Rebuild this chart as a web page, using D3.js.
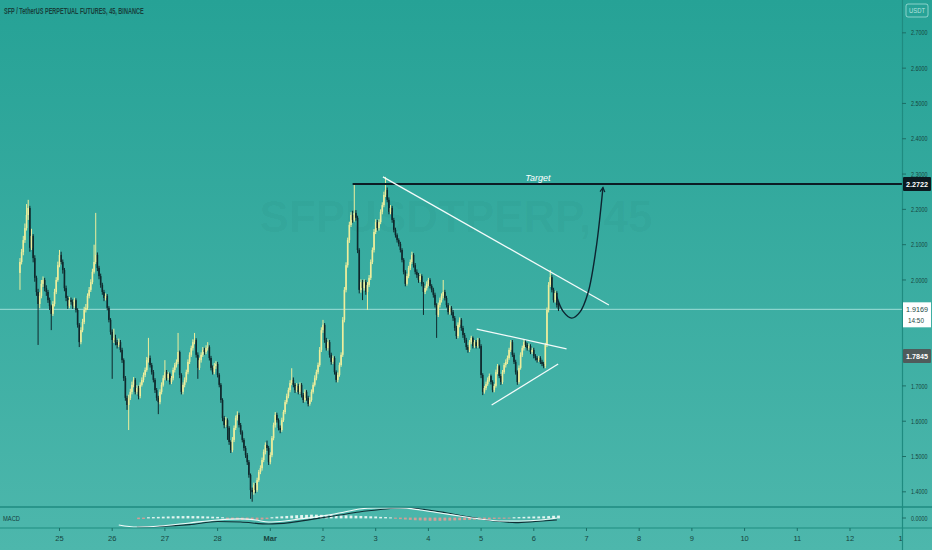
<!DOCTYPE html>
<html><head><meta charset="utf-8">
<script src="https://cdn.jsdelivr.net/npm/d3@7"></script>
<style>
html,body{margin:0;padding:0;background:#3aaca1;}
svg{display:block}
text{font-family:"Liberation Sans","DejaVu Sans",sans-serif}
</style></head><body>
<svg id="c" width="932" height="550"></svg>
<script>
// ---------- DATA ----------
const startTime = Date.UTC(2021, 1, 24, 6, 0); // first 45m candle
const barMinutes = 45;
const firstOpen = 2.020;
const closes = [
2.051,2.079,2.113,2.147,2.184,2.204,2.091,2.125,2.062,2.006,
1.966,1.932,1.955,1.989,2.000,1.977,1.966,1.943,1.926,1.904,
1.932,1.966,2.000,2.042,2.071,2.051,2.028,1.977,1.949,1.926,
1.943,1.938,1.926,1.943,1.915,1.873,1.824,1.858,1.881,1.915,
1.921,1.955,1.972,1.994,2.023,2.051,2.071,2.034,2.011,1.986,
1.966,1.949,1.955,1.921,1.887,1.853,1.830,1.836,1.824,1.816,
1.824,1.802,1.773,1.722,1.666,1.646,1.666,1.683,1.703,1.717,
1.683,1.694,1.671,1.703,1.717,1.731,1.745,1.773,1.779,1.759,
1.739,1.717,1.688,1.666,1.654,1.683,1.703,1.722,1.739,1.722,
1.734,1.711,1.722,1.745,1.759,1.768,1.796,1.731,1.683,1.703,
1.717,1.739,1.768,1.788,1.807,1.824,1.830,1.788,1.751,1.773,
1.788,1.802,1.796,1.807,1.810,1.779,1.751,1.739,1.756,1.762,
1.731,1.703,1.660,1.609,1.589,1.603,1.581,1.541,1.518,1.547,
1.581,1.609,1.618,1.589,1.569,1.547,1.524,1.504,1.484,1.448,
1.405,1.399,1.419,1.405,1.433,1.456,1.467,1.490,1.513,1.533,
1.524,1.484,1.504,1.552,1.589,1.618,1.603,1.581,1.575,1.603,
1.626,1.654,1.671,1.688,1.708,1.717,1.703,1.688,1.700,1.683,
1.703,1.674,1.660,1.683,1.666,1.649,1.660,1.683,1.703,1.722,
1.739,1.759,1.802,1.858,1.873,1.830,1.807,1.824,1.788,1.768,
1.779,1.739,1.717,1.731,1.759,1.788,1.887,1.972,2.042,2.113,
2.156,2.184,2.170,2.190,2.176,2.085,1.972,1.994,1.977,1.994,
1.966,1.986,2.006,2.051,2.085,2.136,2.164,2.147,2.164,2.193,
2.212,2.241,2.255,2.227,2.193,2.204,2.170,2.142,2.127,2.113,
2.102,2.085,2.057,2.023,1.989,2.011,2.034,2.051,2.071,2.042,
2.023,2.014,2.000,2.011,1.989,1.966,1.977,1.989,2.000,1.983,
1.972,1.958,1.929,1.901,1.929,1.943,1.955,1.966,1.949,1.929,
1.909,1.921,1.909,1.892,1.864,1.841,1.873,1.887,1.864,1.844,
1.830,1.810,1.802,1.824,1.836,1.813,1.824,1.813,1.830,1.813,
1.731,1.683,1.694,1.705,1.717,1.728,1.711,1.688,1.700,1.739,
1.756,1.728,1.711,1.739,1.759,1.768,1.779,1.802,1.824,1.788,
1.768,1.739,1.711,1.751,1.788,1.807,1.824,1.816,1.807,1.813,
1.796,1.802,1.785,1.779,1.773,1.779,1.768,1.762,1.756,1.816,
1.915,1.986,2.008,1.972,1.943,1.963,1.929,1.917];
const highs = [
2.062,2.088,2.125,2.160,2.215,2.227,2.210,2.145,2.130,2.070,
2.012,1.975,1.965,2.000,2.010,2.006,1.985,1.972,1.950,1.930,
1.940,1.975,2.008,2.052,2.085,2.080,2.058,2.034,1.984,1.955,
1.952,1.950,1.945,1.950,1.948,1.920,1.878,1.866,1.890,1.924,
1.932,1.962,1.980,2.002,2.032,2.100,2.190,2.078,2.040,2.018,
1.992,1.972,1.962,1.960,1.926,1.892,1.860,1.862,1.845,1.830,
1.834,1.830,1.808,1.778,1.728,1.672,1.675,1.692,1.712,1.725,
1.722,1.702,1.700,1.710,1.724,1.738,1.752,1.782,1.836,1.786,
1.765,1.745,1.722,1.694,1.672,1.690,1.710,1.730,1.773,1.745,
1.740,1.738,1.728,1.752,1.765,1.775,1.850,1.800,1.736,1.710,
1.724,1.746,1.775,1.795,1.814,1.832,1.850,1.835,1.795,1.780,
1.795,1.810,1.808,1.815,1.824,1.815,1.785,1.758,1.765,1.770,
1.768,1.736,1.708,1.665,1.615,1.612,1.608,1.586,1.546,1.555,
1.588,1.616,1.628,1.624,1.595,1.574,1.552,1.530,1.510,1.490,
1.452,1.412,1.426,1.425,1.440,1.462,1.475,1.497,1.520,1.540,
1.545,1.530,1.512,1.558,1.596,1.626,1.624,1.608,1.588,1.610,
1.632,1.660,1.678,1.695,1.716,1.750,1.724,1.708,1.708,1.706,
1.710,1.708,1.680,1.690,1.688,1.672,1.668,1.690,1.710,1.730,
1.746,1.766,1.810,1.866,1.887,1.878,1.836,1.832,1.830,1.794,
1.786,1.784,1.744,1.738,1.766,1.795,1.895,1.980,2.050,2.120,
2.165,2.192,2.196,2.272,2.198,2.182,2.090,2.002,2.000,2.002,
2.000,1.994,2.014,2.058,2.092,2.144,2.172,2.170,2.172,2.200,
2.220,2.250,2.292,2.262,2.234,2.212,2.210,2.176,2.148,2.132,
2.118,2.108,2.090,2.062,2.028,2.018,2.040,2.058,2.080,2.076,
2.048,2.030,2.020,2.018,2.016,1.994,1.984,1.996,2.006,2.005,
1.988,1.978,1.964,1.934,1.936,1.950,1.962,2.000,1.972,1.955,
1.935,1.928,1.926,1.915,1.898,1.870,1.880,1.894,1.892,1.870,
1.850,1.836,1.816,1.830,1.842,1.840,1.830,1.830,1.836,1.835,
1.818,1.736,1.700,1.712,1.724,1.735,1.732,1.716,1.706,1.746,
1.762,1.760,1.734,1.745,1.765,1.775,1.786,1.808,1.830,1.830,
1.794,1.774,1.744,1.758,1.795,1.814,1.832,1.830,1.822,1.820,
1.818,1.808,1.808,1.790,1.784,1.785,1.784,1.774,1.768,1.822,
1.922,1.994,2.028,2.014,1.978,1.970,1.968,1.935];
const lows = [
1.972,2.044,2.070,2.105,2.140,2.170,2.080,2.085,2.050,1.995,
1.955,1.816,1.920,1.948,1.980,1.968,1.955,1.935,1.915,1.858,
1.898,1.925,1.960,1.995,2.036,2.044,2.018,1.968,1.940,1.918,
1.920,1.930,1.918,1.920,1.908,1.865,1.810,1.818,1.852,1.875,
1.908,1.915,1.948,1.966,1.988,2.018,2.045,2.025,2.002,1.978,
1.958,1.940,1.942,1.914,1.880,1.845,1.720,1.822,1.815,1.806,
1.810,1.795,1.765,1.714,1.658,1.632,1.575,1.660,1.676,1.696,
1.676,1.676,1.662,1.665,1.698,1.710,1.725,1.740,1.766,1.752,
1.732,1.710,1.680,1.658,1.620,1.648,1.676,1.698,1.716,1.715,
1.716,1.704,1.705,1.716,1.738,1.752,1.762,1.722,1.676,1.676,
1.696,1.710,1.733,1.762,1.782,1.800,1.818,1.780,1.720,1.745,
1.766,1.782,1.788,1.790,1.800,1.772,1.744,1.732,1.733,1.748,
1.724,1.696,1.652,1.600,1.580,1.583,1.547,1.533,1.510,1.512,
1.541,1.575,1.602,1.582,1.562,1.540,1.516,1.496,1.476,1.440,
1.380,1.372,1.392,1.396,1.400,1.428,1.450,1.460,1.484,1.506,
1.516,1.476,1.478,1.498,1.546,1.582,1.596,1.574,1.566,1.570,
1.598,1.620,1.648,1.665,1.682,1.702,1.696,1.680,1.682,1.676,
1.677,1.667,1.652,1.654,1.658,1.642,1.644,1.655,1.678,1.698,
1.716,1.733,1.754,1.796,1.850,1.822,1.800,1.800,1.780,1.760,
1.762,1.732,1.710,1.710,1.726,1.754,1.782,1.880,1.965,2.035,
2.105,2.150,2.162,2.165,2.168,2.076,1.962,1.964,1.943,1.970,
1.958,1.915,1.980,2.000,2.045,2.078,2.130,2.140,2.140,2.158,
2.186,2.206,2.235,2.220,2.186,2.186,2.162,2.135,2.120,2.106,
2.095,2.078,2.050,2.016,1.982,1.984,2.005,2.028,2.045,2.035,
2.016,2.006,1.992,1.994,1.982,1.901,1.960,1.970,1.982,1.976,
1.965,1.950,1.922,1.836,1.895,1.922,1.936,1.948,1.942,1.922,
1.902,1.902,1.900,1.884,1.856,1.833,1.835,1.866,1.856,1.836,
1.822,1.802,1.794,1.796,1.818,1.806,1.808,1.806,1.808,1.806,
1.722,1.674,1.678,1.688,1.700,1.712,1.704,1.682,1.682,1.695,
1.733,1.722,1.703,1.705,1.734,1.752,1.762,1.774,1.796,1.782,
1.762,1.732,1.703,1.706,1.746,1.782,1.800,1.810,1.800,1.802,
1.790,1.790,1.778,1.772,1.766,1.768,1.762,1.756,1.750,1.750,
1.810,1.908,1.980,1.965,1.936,1.936,1.922,1.912];

// MACD (sampled at candle indices)
const macdIdx  = [60,71,85,103,120,134,143,151,161,170,179,191,200,206,216,231,243,255,267,279,291,304,316,326];
const macdVals = [-0.038,-0.049,-0.044,-0.027,-0.011,-0.005,-0.011,-0.022,-0.016,-0.005,0.005,0.022,0.038,0.049,0.055,0.055,0.044,0.027,0.011,-0.005,-0.016,-0.016,-0.011,0.000];
const signalIdx  = [71,85,103,120,134,151,164,179,194,206,219,231,243,258,273,288,301,313,326];
const signalVals = [-0.049,-0.046,-0.036,-0.019,-0.022,-0.033,-0.025,-0.005,0.016,0.033,0.046,0.055,0.049,0.030,0.005,-0.016,-0.025,-0.019,-0.011];
const histStart = 72, histStep = 3;
const histVals = [-0.004,-0.003,0.002,0.003,0.004,0.005,0.006,0.007,0.008,0.008,
0.009,0.008,0.008,0.007,0.006,0.005,0.004,0.002,-0.003,-0.005,
-0.006,-0.008,-0.009,-0.009,-0.008,-0.006,-0.004,0.002,0.005,0.007,
0.009,0.011,0.013,0.014,0.015,0.016,0.016,0.015,0.015,0.014,
0.013,0.012,0.012,0.011,0.010,0.009,0.008,0.007,0.006,0.004,
0.003,0.001,-0.002,-0.004,-0.006,-0.008,-0.010,-0.011,-0.012,-0.013,
-0.013,-0.013,-0.012,-0.012,-0.011,-0.010,-0.009,-0.008,-0.007,-0.006,
-0.005,-0.004,-0.003,-0.002,-0.002,-0.001,0.002,0.003,0.004,0.005,
0.006,0.006,0.007,0.008,0.010,0.011];

// axes
const priceTicks = [2.7,2.6,2.5,2.4,2.3,2.2,2.1,2.0,1.7,1.6,1.5,1.4]; // 1.9 / 1.8 sit under the price tags
const dayTicks = [[1,25],[1,26],[1,27],[1,28],[2,1],[2,2],[2,3],[2,4],[2,5],[2,6],[2,7],[2,8],[2,9],[2,10],[2,11],[2,12],[2,13]];
const dayLabels = ["25","26","27","28","Mar","2","3","4","5","6","7","8","9","10","11","12","13"];
const lastPrice = 1.9169, lastCountdown = "14:50";
const targetPrice = 2.2722, markPrice = 1.7845;
const macdZeroLabel = "0.0000";

// drawings (candle index, price)
const targetStartIdx = 202;
const trendDown = [[220.4, 2.292], [357.6, 1.929]];
const triUpper = [[277.3, 1.861], [331.9, 1.805]];
const triLower = [[286.4, 1.646], [326.8, 1.762]];
const projection = [[325.9,1.953],[329.7,1.912],[335.0,1.892],[340.0,1.909],[344.9,1.963],[349.7,2.085],[354.0,2.262]];

// ---------- CHART ----------
const W = 932, H = 550, axisX = 902, mainBottom = 507, macdBottom = 528;
const DAY = 86400000;
const t = i => new Date(startTime + i * barMinutes * 60000);
const feb25 = Date.UTC(2021, 1, 25);
const x = d3.scaleUtc().domain([new Date(feb25 - 1.129 * DAY), new Date(feb25 + 15.987 * DAY)]).range([0, axisX]);
const y = d3.scaleLinear().domain([1.357, 2.793]).range([mainBottom, 0]);
const ym = d3.scaleLinear().domain([-0.06, 0.06]).range([529, 507]);
const xi = i => x(t(i));

const svg = d3.select("#c");
const defs = svg.append("defs");
const g = defs.append("linearGradient").attr("id","bg").attr("x1",0).attr("y1",0).attr("x2",0).attr("y2",1);
g.append("stop").attr("offset","0%").attr("stop-color","#26a296");
g.append("stop").attr("offset","100%").attr("stop-color","#4db7ac");
defs.append("clipPath").attr("id","mainClip").append("rect").attr("x",0).attr("y",0).attr("width",axisX).attr("height",mainBottom);
defs.append("clipPath").attr("id","macdClip").append("rect").attr("x",0).attr("y",mainBottom).attr("width",axisX).attr("height",macdBottom-mainBottom);
defs.append("clipPath").attr("id","timeClip").append("rect").attr("x",0).attr("y",macdBottom).attr("width",axisX).attr("height",H-macdBottom);

svg.append("rect").attr("width",W).attr("height",H).attr("fill","url(#bg)");

// narrow text helper: draws text at (px,py) squeezed horizontally to width w
function narrow(parent, px, py, s, size, w, opts = {}) {
  const gg = parent.append("g");
  const tx = gg.append("text").attr("x",0).attr("y",0).attr("font-size",size).text(s);
  if (opts.weight) tx.attr("font-weight", opts.weight);
  if (opts.fill) tx.attr("fill", opts.fill);
  if (opts.dy) tx.attr("dy", opts.dy);
  if (opts.anchor) tx.attr("text-anchor", opts.anchor);
  const nat = tx.node().getComputedTextLength() || w;
  gg.attr("transform", `translate(${px},${py}) scale(${w / nat},1)`);
  return tx;
}

// watermark
svg.append("text").attr("x", 456).attr("y", 232).attr("text-anchor","middle")
  .attr("font-size", 44).attr("font-weight","bold").attr("fill","rgba(10,60,60,0.04)")
  .text("SFPUSDTPERP, 45");

const main = svg.append("g").attr("clip-path","url(#mainClip)");

// last price line
main.append("line").attr("x1",0).attr("x2",axisX).attr("y1",y(lastPrice)).attr("y2",y(lastPrice))
  .attr("stroke","rgba(225,255,250,0.6)").attr("stroke-width",1);

// candles
const upC = "#eeee9c", dnC = "#0f282c";
const candles = closes.map((c,i)=>({i, o: i===0 ? firstOpen : closes[i-1], c, h: highs[i], l: lows[i]}));
const cg = main.append("g");
cg.selectAll("line.w").data(candles).join("line")
  .attr("x1",d=>xi(d.i)).attr("x2",d=>xi(d.i))
  .attr("y1",d=>y(d.h)).attr("y2",d=>y(d.l))
  .attr("stroke",d=>d.c>=d.o?upC:dnC).attr("stroke-width",1);
cg.selectAll("rect.b").data(candles).join("rect")
  .attr("x",d=>xi(d.i)-0.8).attr("width",1.6)
  .attr("y",d=>y(Math.max(d.o,d.c)))
  .attr("height",d=>Math.max(1, Math.abs(y(d.o)-y(d.c))))
  .attr("fill",d=>d.c>=d.o?upC:dnC);

// target line
main.append("line").attr("x1",xi(targetStartIdx)).attr("x2",axisX)
  .attr("y1",y(targetPrice)).attr("y2",y(targetPrice)).attr("stroke","#0c1c24").attr("stroke-width",2);
main.append("text").attr("x", xi(314.5)).attr("y", y(targetPrice)-3).attr("text-anchor","middle")
  .attr("font-size",9).attr("font-style","italic").attr("fill","#ffffff").text("Target");

// trend lines
const seg = (pts, color, w) => main.append("line")
  .attr("x1",xi(pts[0][0])).attr("y1",y(pts[0][1])).attr("x2",xi(pts[1][0])).attr("y2",y(pts[1][1]))
  .attr("stroke",color).attr("stroke-width",w);
seg(trendDown, "#f4fbfa", 1.3);
seg(triUpper, "#f4fbfa", 1.3);
seg(triLower, "#f4fbfa", 1.3);

// projection curve
const projPx = projection.map(p=>[xi(p[0]), y(p[1])]);
main.append("path").attr("d", d3.line().curve(d3.curveCatmullRom.alpha(0.5))(projPx))
  .attr("fill","none").attr("stroke","#0d2430").attr("stroke-width",1.4);
{
  const a = projPx[projPx.length-1], b = projPx[projPx.length-2];
  const ang = Math.atan2(a[1]-b[1], a[0]-b[0]);
  const L = 5;
  const p1 = [a[0]-L*Math.cos(ang-0.5), a[1]-L*Math.sin(ang-0.5)];
  const p2 = [a[0]-L*Math.cos(ang+0.5), a[1]-L*Math.sin(ang+0.5)];
  main.append("path").attr("d", d3.line()([p1,a,p2])).attr("fill","none").attr("stroke","#0d2430").attr("stroke-width",1.2);
}

// MACD pane
const mg = svg.append("g").attr("clip-path","url(#macdClip)");
mg.selectAll("rect.h").data(histVals).join("rect")
  .attr("x",(v,k)=>xi(histStart+k*histStep)-1.4).attr("width",2.8)
  .attr("y",v=>Math.min(ym(0),ym(v))-0.4).attr("height",v=>Math.abs(ym(v)-ym(0))+0.8)
  .attr("fill",v=>v>=0?"#e4f5f1":"#d49d97");
const ml = d3.line().curve(d3.curveMonotoneX);
mg.append("path").attr("d", ml(signalIdx.map((k,j)=>[xi(k), ym(signalVals[j])])))
  .attr("fill","none").attr("stroke","#0f2d33").attr("stroke-width",1.1);
mg.append("path").attr("d", ml(macdIdx.map((k,j)=>[xi(k), ym(macdVals[j])])))
  .attr("fill","none").attr("stroke","#f2fbf9").attr("stroke-width",1.1);
narrow(svg, 3, 521, "MACD", 7, 17, {fill:"#16403c"});

// separators
const sepC = "#1f8b80";
svg.append("line").attr("x1",0).attr("x2",W).attr("y1",mainBottom).attr("y2",mainBottom).attr("stroke",sepC).attr("stroke-width",1.5);
svg.append("line").attr("x1",0).attr("x2",W).attr("y1",macdBottom).attr("y2",macdBottom).attr("stroke",sepC).attr("stroke-width",1.2);
svg.append("line").attr("x1",axisX+0.5).attr("x2",axisX+0.5).attr("y1",0).attr("y2",H).attr("stroke",sepC).attr("stroke-width",1.2);

// time axis
const tg = svg.append("g").attr("clip-path","url(#timeClip)");
dayTicks.forEach((d,k)=>{
  const px = x(new Date(Date.UTC(2021, d[0], d[1])));
  tg.append("line").attr("x1",px).attr("x2",px).attr("y1",macdBottom).attr("y2",macdBottom+3).attr("stroke","#1c6e66");
  tg.append("text").attr("x",px).attr("y",541).attr("text-anchor","middle").attr("font-size",7.5)
    .attr("font-weight", dayLabels[k]==="Mar"?"bold":"normal").attr("fill","#174540").text(dayLabels[k]);
});

// price axis
const fmt = d3.format(".4f");
const pa = svg.append("g");
function tickLabel(yy, s){
  pa.append("line").attr("x1",axisX).attr("x2",axisX+4).attr("y1",yy).attr("y2",yy).attr("stroke","#1c6e66");
  narrow(pa, axisX+9, yy, s, 7.5, 16.5, {fill:"#174540", dy:"0.35em"});
}
priceTicks.forEach(p=>tickLabel(y(p), fmt(p)));
tickLabel(ym(0), macdZeroLabel);

// price tags
function tag(price, fill, txtColor){
  const yy = y(price);
  pa.append("rect").attr("x",axisX+1).attr("y",yy-7).attr("width",W-axisX-2).attr("height",14).attr("fill",fill).attr("rx",1);
  narrow(pa, axisX+4, yy, fmt(price), 8, 22, {fill:txtColor, weight:"bold", dy:"0.35em"});
}
tag(targetPrice, "#0b1a20", "#ffffff");
tag(markPrice, "#4f5b5b", "#ffffff");
{
  const yy = y(lastPrice);
  pa.append("rect").attr("x",axisX+1).attr("y",yy-7).attr("width",W-axisX-2).attr("height",25).attr("fill","#ffffff");
  narrow(pa, axisX+4, yy, fmt(lastPrice), 8, 22, {fill:"#1b4a45", dy:"0.35em"});
  narrow(pa, axisX+6, yy+11, lastCountdown, 8, 16, {fill:"#1b4a45", dy:"0.35em"});
}
// currency box
pa.append("rect").attr("x",906).attr("y",4).attr("width",22).attr("height",13).attr("rx",2)
  .attr("fill","none").attr("stroke","rgba(220,250,245,0.55)");
narrow(pa, 909, 10.5, "USDT", 7, 16, {fill:"rgba(225,250,246,0.75)", dy:"0.35em"});

// title
narrow(svg, 4, 14, "SFP / TetherUS PERPETUAL FUTURES, 45, BINANCE", 8.5, 140, {fill:"#17403c", weight:"bold"});
</script>
</body></html>
